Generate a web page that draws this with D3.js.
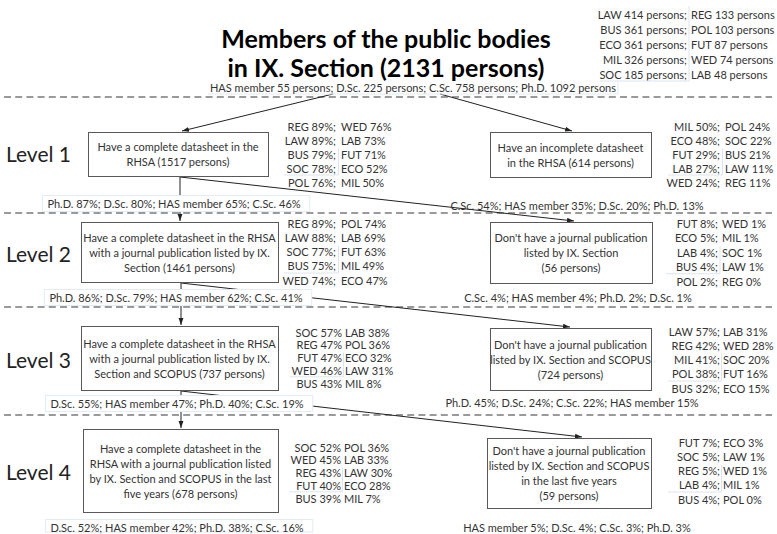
<!DOCTYPE html>
<html>
<head>
<meta charset="utf-8">
<script src="https://cdn.jsdelivr.net/npm/d3@7/dist/d3.min.js"></script>
<style>
  html, body { margin: 0; padding: 0; background: #fff; }
  svg { display: block; }
  text { font-family: Lato, "Open Sans", sans-serif; fill: #333; }
</style>
</head>
<body>
<svg id="chart" width="777" height="534"></svg>
<script>
// ---------------- DATA ----------------
const titleLines = ["Members of the public bodies", "in IX. Section (2131 persons)"];

const totalCatsA = ["LAW", "BUS", "ECO", "MIL", "SOC"];
const totalCountsA = [414, 361, 361, 326, 185];
const totalCatsB = ["REG", "POL", "FUT", "WED", "LAB"];
const totalCountsB = [133, 103, 87, 74, 48];

const degreeNames = ["HAS member", "D.Sc.", "C.Sc.", "Ph.D."];
const degreeCounts = [55, 225, 758, 1092];

const levelLabels = ["Level 1", "Level 2", "Level 3", "Level 4"];

const nodeIds = ["L1L", "L1R", "L2L", "L2R", "L3L", "L3R", "L4L", "L4R"];

const nodeText = [
  ["Have a complete datasheet in the", "RHSA (1517 persons)"],
  ["Have an incomplete datasheet", "in the RHSA (614 persons)"],
  ["Have a complete datasheet in the RHSA", "with a journal publication listed by IX.", "Section (1461 persons)"],
  ["Don't have a journal publication", "listed by IX. Section", "(56 persons)"],
  ["Have a complete datasheet in the RHSA", "with a journal publication listed by IX.", "Section and SCOPUS (737 persons)"],
  ["Don't have a journal publication", "listed by IX. Section and SCOPUS", "(724 persons)"],
  ["Have a complete datasheet in the", "RHSA with a journal publication listed", "by IX. Section and SCOPUS in the last", "five years (678 persons)"],
  ["Don't have a journal publication", "listed by IX. Section and SCOPUS", "in the last five years", "(59 persons)"]
];

const catsA = [
  ["REG", "LAW", "BUS", "SOC", "POL"],
  ["MIL", "ECO", "FUT", "LAB", "WED"],
  ["REG", "LAW", "SOC", "BUS", "WED"],
  ["FUT", "ECO", "LAB", "BUS", "POL"],
  ["SOC", "REG", "FUT", "WED", "BUS"],
  ["LAW", "REG", "MIL", "POL", "BUS"],
  ["SOC", "WED", "REG", "FUT", "BUS"],
  ["FUT", "SOC", "REG", "LAB", "BUS"]
];
const valsA = [
  [89, 89, 79, 78, 76],
  [50, 48, 29, 27, 24],
  [89, 88, 77, 75, 74],
  [8, 5, 4, 4, 2],
  [57, 47, 47, 46, 43],
  [57, 42, 41, 38, 32],
  [52, 45, 43, 40, 39],
  [7, 5, 5, 4, 4]
];
const catsB = [
  ["WED", "LAB", "FUT", "ECO", "MIL"],
  ["POL", "SOC", "BUS", "LAW", "REG"],
  ["POL", "LAB", "FUT", "MIL", "ECO"],
  ["WED", "MIL", "SOC", "LAW", "REG"],
  ["LAB", "POL", "ECO", "LAW", "MIL"],
  ["LAB", "WED", "SOC", "FUT", "ECO"],
  ["POL", "LAB", "LAW", "ECO", "MIL"],
  ["ECO", "LAW", "WED", "MIL", "POL"]
];
const valsB = [
  [76, 73, 71, 52, 50],
  [24, 22, 21, 11, 11],
  [74, 69, 63, 49, 47],
  [1, 1, 1, 1, 0],
  [38, 36, 32, 31, 8],
  [31, 28, 20, 16, 15],
  [36, 33, 30, 28, 7],
  [3, 1, 1, 1, 0]
];

const degNames = [
  ["Ph.D.", "D.Sc.", "HAS member", "C.Sc."],
  ["C.Sc.", "HAS member", "D.Sc.", "Ph.D."],
  ["Ph.D.", "D.Sc.", "HAS member", "C.Sc."],
  ["C.Sc.", "HAS member", "Ph.D.", "D.Sc."],
  ["D.Sc.", "HAS member", "Ph.D.", "C.Sc."],
  ["Ph.D.", "D.Sc.", "C.Sc.", "HAS member"],
  ["D.Sc.", "HAS member", "Ph.D.", "C.Sc."],
  ["HAS member", "D.Sc.", "C.Sc.", "Ph.D."]
];
const degVals = [
  [87, 80, 65, 46],
  [54, 35, 20, 13],
  [86, 79, 62, 41],
  [4, 4, 2, 1],
  [55, 47, 40, 19],
  [45, 24, 22, 15],
  [52, 42, 38, 16],
  [5, 4, 3, 3]
];

// ---------------- LAYOUT ----------------
const svg = d3.select("#chart");

// box geometry [x, y, w, h]
const boxGeom = {
  L1L: [88, 132, 180, 44],  L1R: [490, 132, 161, 45],
  L2L: [81, 222, 197, 60],  L2R: [490, 222, 162, 61],
  L3L: [81, 326, 197, 64],  L3R: [490, 328, 161, 62],
  L4L: [83, 429, 195, 83],  L4R: [487, 438, 164, 70]
};
// stats block: [rightEdgeOfColA, leftOfColB, firstRowY, rowStep, separator]
const statGeom = {
  L1L: [336, 341, 126, 14, ";"],   L1R: [720, 725, 126, 14, ";"],
  L2L: [336, 341, 223, 14.3, ";"], L2R: [718, 722, 223, 14.5, ";"],
  L3L: [342, 345, 332, 12.8, ""],  L3R: [720, 723, 331, 14.3, ";"],
  L4L: [341, 344, 447, 12.8, ""],  L4R: [720, 723, 442, 14.3, ";"]
};
// degree line: [centerX, y, whiteBackground]
const degGeom = {
  L1L: [174, 203, true],  L1R: [577, 205, false],
  L2L: [176, 297, true],  L2R: [578, 297, false],
  L3L: [177, 403, true],  L3R: [572, 402, false],
  L4L: [177, 527, true],  L4R: [577, 527, false]
};
const levelY = d3.scaleOrdinal().domain(levelLabels).range([153, 253, 359, 471]);
const dashY = [97, 213, 307, 415];

const statFont = 11, boxFont = 11, degFont = 11;
const faint = "#dbe5f1";

// arrow marker
svg.append("defs").append("marker")
  .attr("id", "arr").attr("viewBox", "0 0 10 10").attr("refX", 10).attr("refY", 5)
  .attr("markerWidth", 7).attr("markerHeight", 7).attr("markerUnits", "userSpaceOnUse")
  .attr("orient", "auto")
  .append("path").attr("d", "M0,1.5 L10,5 L0,8.5 Z").attr("fill", "#222");

// dashed separators
svg.selectAll("line.dash").data(dashY).enter().append("line")
  .attr("class", "dash")
  .attr("x1", 4).attr("x2", 772).attr("y1", d => d).attr("y2", d => d)
  .attr("stroke", "#7a7a7a").attr("stroke-width", 1.6).attr("stroke-dasharray", "7,4.2");

// connectors
const links = [
  { s: [333, 94], t: [182, 131] },
  { s: [440, 94], t: [572, 131] },
  { s: [180, 177], t: [180, 221] },
  { s: [180, 177], t: [574, 221] },
  { s: [181, 283], t: [181, 325] },
  { s: [181, 283], t: [570, 327] },
  { s: [181, 391], t: [181, 428] },
  { s: [181, 391], t: [582, 437] }
];
svg.selectAll("line.link").data(links).enter().append("line")
  .attr("class", "link")
  .attr("x1", d => d.s[0]).attr("y1", d => d.s[1])
  .attr("x2", d => d.t[0]).attr("y2", d => d.t[1])
  .attr("stroke", "#222").attr("stroke-width", 1)
  .attr("marker-end", "url(#arr)");

// title
svg.selectAll("text.title").data(titleLines).enter().append("text")
  .attr("class", "title")
  .attr("x", 386).attr("y", (d, i) => 48 + i * 29)
  .attr("text-anchor", "middle")
  .style("font-size", "25px").style("font-weight", "bold").style("fill", "#000")
  .text(d => d);

// top-right totals
const tot = svg.append("g");
tot.selectAll("text.ta").data(totalCatsA).enter().append("text")
  .attr("x", 687).attr("y", (d, i) => 14 + i * 15.2)
  .attr("text-anchor", "end").attr("dominant-baseline", "central")
  .style("font-size", statFont + "px")
  .text((d, i) => `${d} ${totalCountsA[i]} persons;`);
tot.selectAll("text.tb").data(totalCatsB).enter().append("text")
  .attr("x", 691).attr("y", (d, i) => 14 + i * 15.2)
  .attr("dominant-baseline", "central")
  .style("font-size", statFont + "px")
  .text((d, i) => `${d} ${totalCountsB[i]} persons`);
tot.append("line").attr("x1", 689).attr("x2", 689).attr("y1", 6).attr("y2", 81)
  .attr("stroke", faint).attr("stroke-width", 1);
tot.append("line").attr("x1", 600).attr("x2", 689).attr("y1", 81).attr("y2", 81)
  .attr("stroke", faint).attr("stroke-width", 1);

// header degree counts
const hdr = svg.append("g");
hdr.append("line").attr("x1", 208).attr("x2", 618).attr("y1", 94).attr("y2", 94)
  .attr("stroke", "#e3ebf5");
hdr.append("line").attr("x1", 618).attr("x2", 618).attr("y1", 81).attr("y2", 94)
  .attr("stroke", "#e3ebf5");
hdr.append("text").attr("x", 413).attr("y", 87)
  .attr("text-anchor", "middle").attr("dominant-baseline", "central")
  .style("font-size", statFont + "px")
  .text(degreeNames.map((n, i) => `${n} ${degreeCounts[i]} persons`).join("; "));

// level labels
svg.selectAll("text.level").data(levelLabels).enter().append("text")
  .attr("class", "level")
  .attr("x", 6).attr("y", d => levelY(d))
  .attr("dominant-baseline", "central")
  .style("font-size", "21px").style("fill", "#222")
  .text(d => d);

// nodes
nodeIds.forEach((id, k) => {
  const g = svg.append("g");
  const [bx, by, bw, bh] = boxGeom[id];
  g.append("rect").attr("x", bx + 0.5).attr("y", by + 0.5).attr("width", bw).attr("height", bh)
    .attr("fill", "#fff").attr("stroke", "#595959").attr("stroke-width", 1);
  const lines = nodeText[k];
  const lh = 15;
  const cy = by + bh / 2;
  g.selectAll("text.bt").data(lines).enter().append("text")
    .attr("x", bx + bw / 2).attr("y", (d, i) => cy + (i - (lines.length - 1) / 2) * lh)
    .attr("text-anchor", "middle").attr("dominant-baseline", "central")
    .style("font-size", boxFont + "px")
    .text(d => d);

  const [ra, lb, y0, step, sep] = statGeom[id];
  // faint text-box corner between the two columns
  const cx = (ra + lb) / 2, yc = y0 + 3.5 * step;
  g.append("line").attr("x1", cx).attr("x2", cx).attr("y1", y0 + 1.6 * step).attr("y2", yc)
    .attr("stroke", faint);
  g.append("line").attr("x1", ra - 52).attr("x2", cx).attr("y1", yc).attr("y2", yc)
    .attr("stroke", faint);

  g.selectAll("text.sa").data(catsA[k]).enter().append("text")
    .attr("x", ra).attr("y", (d, i) => y0 + i * step)
    .attr("text-anchor", "end").attr("dominant-baseline", "central")
    .style("font-size", statFont + "px")
    .text((d, i) => `${d} ${valsA[k][i]}%${sep}`);
  g.selectAll("text.sb").data(catsB[k]).enter().append("text")
    .attr("x", lb).attr("y", (d, i) => y0 + i * step)
    .attr("dominant-baseline", "central")
    .style("font-size", statFont + "px")
    .text((d, i) => `${d} ${valsB[k][i]}%`);

  const [dx, dy, white] = degGeom[id];
  const dt = g.append("text")
    .attr("x", dx).attr("y", dy)
    .attr("text-anchor", "middle").attr("dominant-baseline", "central")
    .style("font-size", degFont + "px")
    .text(degNames[k].map((n, i) => `${n} ${degVals[k][i]}%`).join("; "));
  if (white) {
    const bb = dt.node().getBBox();
    g.insert("rect", "text")
      .attr("x", bb.x - 5).attr("y", bb.y - 1).attr("width", bb.width + 14).attr("height", Math.min(bb.height + 3, 533 - bb.y))
      .attr("fill", "#fff").attr("stroke", "#e3ebf5");
    dt.raise();
  }
});
</script>
</body>
</html>
